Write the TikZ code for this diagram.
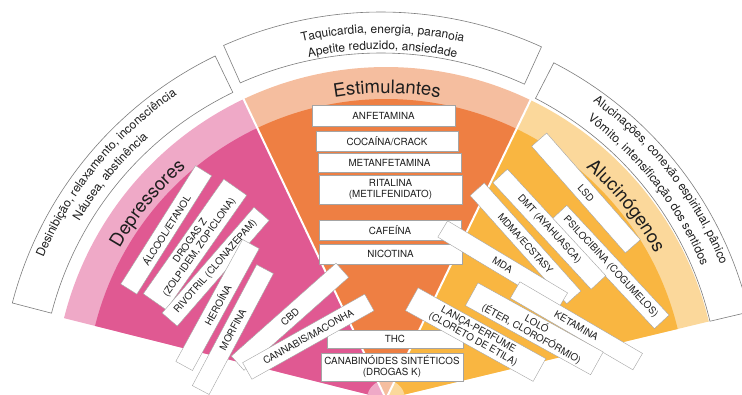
\documentclass[tikz,border=0pt]{standalone}
\usepackage{fontspec}
\setmainfont{TeX Gyre Heros}
\usetikzlibrary{decorations.text}
\definecolor{pinkD}{RGB}{224,89,146}
\definecolor{pinkL}{RGB}{239,169,199}
\definecolor{oraD}{RGB}{238,127,67}
\definecolor{oraL}{RGB}{245,190,159}
\definecolor{yelD}{RGB}{249,182,65}
\definecolor{yelL}{RGB}{251,216,155}
\definecolor{txt}{RGB}{30,30,30}
\definecolor{edge}{RGB}{125,125,125}
\newcommand\drugfont{\fontsize{9.8}{11}\selectfont}
\newcommand\outfont{\fontsize{12}{14}\selectfont}
\newcommand\catfont{\fontsize{18.5}{20}\selectfont}
\begin{document}
\begin{tikzpicture}[x=1pt,y=1pt,
  drug/.style={draw=edge!70, line width=0.4pt, fill=white, inner sep=0pt,
    minimum height=19pt, align=center, font=\drugfont, text=txt},
  outerbox/.style={draw=edge, line width=0.6pt, fill=white},
  sep/.style={white, line width=2pt},
  curved/.style={decorate, decoration={text along path, text align=center, text={#1}}}
]
\useasboundingbox (0,-395) rectangle (742,0);
\clip (0,-395) rectangle (742,0);

% ---------- fan ----------
\begin{scope}[shift={(386,-399)}]
  % Depressores
  \fill[pinkL] (0,0) -- (115.4:332) arc[start angle=115.4,end angle=165.9,radius=332] -- cycle;
  \fill[pinkD] (0,0) -- (115.4:300) arc[start angle=115.4,end angle=165.9,radius=300] -- cycle;
  \fill[pinkL] (0,0) -- (115.4:19) arc[start angle=115.4,end angle=165.9,radius=19] -- cycle;
  % Estimulantes
  \fill[oraL] (0,0) -- (64.2:332) arc[start angle=64.2,end angle=115.4,radius=332] -- cycle;
  \fill[oraD] (0,0) -- (64.2:300) arc[start angle=64.2,end angle=115.4,radius=300] -- cycle;
  \fill[oraL] (0,0) -- (64.2:19) arc[start angle=64.2,end angle=115.4,radius=19] -- cycle;
  % Alucinogenos
  \fill[yelL] (0,0) -- (13.5:332) arc[start angle=13.5,end angle=64.2,radius=332] -- cycle;
  \fill[yelD] (0,0) -- (13.5:300) arc[start angle=13.5,end angle=64.2,radius=300] -- cycle;
  \fill[yelL] (0,0) -- (13.5:19) arc[start angle=13.5,end angle=64.2,radius=19] -- cycle;
  % separators
  \coordinate (apex) at (0,0);
  \coordinate (sepL) at (115.4:334);
  \coordinate (sepR) at (64.2:334);
  \draw[sep] (apex) -- (sepL);
  \draw[sep] (apex) -- (sepR);
  % category labels
  \path[curved={|\catfont\color{txt}|Depressores}] (165.9:306) arc[start angle=165.9,end angle=115.4,radius=306];
  \path[curved={|\catfont\color{txt}|Estimulantes}] (115.4:306) arc[start angle=115.4,end angle=64.2,radius=306];
  \path[curved={|\catfont\color{txt}|Alucinógenos}] (64.2:306) arc[start angle=64.2,end angle=13.5,radius=306];
\end{scope}

% ---------- outer effect boxes ----------
\begin{scope}[shift={(381,-399)}]
  \draw[outerbox] (115.8:381) arc[start angle=115.8,end angle=165.4,radius=381]
     -- (165.4:340.5) arc[start angle=165.4,end angle=115.8,radius=340.5] -- cycle;
  \draw[outerbox] (65.5:387) arc[start angle=65.5,end angle=114,radius=387]
     -- (114:346) arc[start angle=114,end angle=65.5,radius=346] -- cycle;
  \draw[outerbox] (13.3:378) arc[start angle=13.3,end angle=62.8,radius=378]
     -- (62.8:338) arc[start angle=62.8,end angle=13.3,radius=338] -- cycle;
  \path[curved={|\outfont\color{txt}|Desinibição, relaxamento, inconsciência}] (165.4:366) arc[start angle=165.4,end angle=115.8,radius=366];
  \path[curved={|\outfont\color{txt}|Náusea, abstinência}] (165.4:350) arc[start angle=165.4,end angle=115.8,radius=350];
  \path[curved={|\outfont\color{txt}|Taquicardia, energia, paranoia}] (114:366) arc[start angle=114,end angle=65.5,radius=366];
  \path[curved={|\outfont\color{txt}|Apetite reduzido, ansiedade}] (114:349.5) arc[start angle=114,end angle=65.5,radius=349.5];
  \path[curved={|\outfont\color{txt}|Alucinações, conexão espiritual, pânico}] (62.8:365) arc[start angle=62.8,end angle=13.3,radius=365];
  \path[curved={|\outfont\color{txt}|Vômito, intensificação dos sentidos}] (62.8:347) arc[start angle=62.8,end angle=13.3,radius=347];
\end{scope}

% ---------- Estimulantes ----------
\node[drug, minimum width=143pt, minimum height=21pt] (anf) at (383.5,-115.5) {ANFETAMINA};
\node[drug, minimum width=142pt, minimum height=20pt] (coc) at (387,-141) {COCAÍNA/CRACK};
\node[drug, minimum width=143pt, minimum height=19pt] (met) at (389.5,-162.5) {METANFETAMINA};
\node[drug, minimum width=143pt, minimum height=29pt] (rit) at (390.5,-189.5) {RITALINA\\(METILFENIDATO)};
\node[drug, minimum width=142pt, minimum height=20pt] (caf) at (390,-230) {CAFEÍNA};
\node[drug, minimum width=143pt, minimum height=20pt] (nic) at (390.5,-254) {NICOTINA};
\node[drug, minimum width=136pt, minimum height=18pt] (thc) at (395,-339) {THC};
\node[drug, minimum width=142pt, minimum height=28pt] (sint) at (392,-367) {CANABINÓIDES SINTÉTICOS\\(DROGAS K)};

% ---------- Depressores ----------
\node[drug, rotate=57.7, minimum width=140pt] (alc) at (166.2,-229.9) {ÁLCOOL/ETANOL};
\node[drug, rotate=54.9, minimum width=140pt, minimum height=28pt] (drz) at (195,-244.5) {DROGAS Z\\(ZOLPIDEM, ZOPICLONA)};
\node[drug, rotate=49, minimum width=140pt, minimum height=20pt] (riv) at (215.6,-266.7) {RIVOTRIL (CLONAZEPAM)};
\node[drug, rotate=61.3, minimum width=139pt] (her) at (217.5,-305) {HEROÍNA};
\node[drug, rotate=62, minimum width=137pt] (mor) at (232.9,-329.6) {MORFINA};
\node[drug, rotate=41.6, minimum width=140pt] (cbd) at (290,-316.7) {CBD};
\node[drug, rotate=29.3, minimum width=140pt] (can) at (308.3,-336.7) {CANNABIS/MACONHA};

% ---------- Alucinogenos ----------
\node[drug, rotate=-47, minimum width=150pt, minimum height=20pt] (psi) at (610.6,-267) {PSILOCIBINA (COGUMELOS)};
\node[drug, rotate=-48.7, minimum width=142pt, minimum height=20pt] (lsd) at (586,-193) {LSD};
\node[drug, rotate=-47.3, minimum width=145pt, minimum height=20pt] (dmt) at (549.3,-229.2) {DMT (AYAHUASCA)};
\node[drug, rotate=-48.2, minimum width=145pt] (mdma) at (525.5,-243.3) {MDMA/ECSTASY};
\node[drug, rotate=-31, minimum width=140pt] (mda) at (502.7,-265) {MDA};
\node[drug, rotate=-30.3, minimum width=142pt] (ket) at (576.4,-325.8) {KETAMINA};
\node[drug, rotate=-28.9, minimum width=143pt, minimum height=26pt] (lol) at (534.3,-328.8) {LOLÓ\\(ÉTER, CLOROFÓRMIO)};
\node[drug, rotate=-29, minimum width=146pt, minimum height=26pt] (lan) at (475.6,-334.6) {LANÇA-PERFUME\\(CLORETO DE ETILA)};
\end{tikzpicture}
\end{document}
